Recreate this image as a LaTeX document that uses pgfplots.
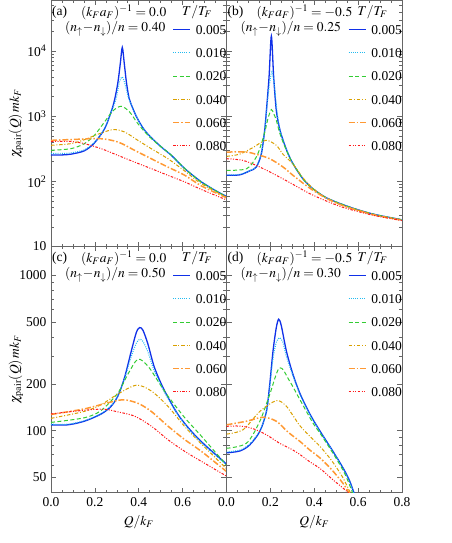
\documentclass[border=0pt]{standalone}
\usepackage{mathptmx}
\usepackage{fontspec}
\setmainfont{Liberation Serif}
\usepackage{pgfplots}
\pgfplotsset{compat=1.18}
\definecolor{cA}{HTML}{1030E8}
\definecolor{cB}{HTML}{22BBF0}
\definecolor{cC}{HTML}{33CC33}
\definecolor{cD}{HTML}{D9A000}
\definecolor{cE}{HTML}{FF9933}
\definecolor{cF}{HTML}{FF1A1A}

\pgfplotsset{scale only axis, width=175.5pt, height=246pt,
  xmin=0, xmax=0.8, xtick={0,0.2,0.4,0.6,0.8}, minor x tick num=3,
  tick align=inside, xtick pos=both, ytick pos=both,
  major tick length=5pt, minor tick length=3pt,
  axis line style={black!60, line width=0.8pt},
  tick style={black!60, line width=0.6pt},
  legend cell align=left,
  legend style={draw=none, fill=none, at={(1,1)}, anchor=north east,
    yshift=-24pt, inner sep=0pt, row sep=13.8pt,
    nodes={inner sep=0pt, text height=9.5pt, text depth=0pt},
    /tikz/every odd column/.append style={column sep=5pt}},
  ylabel style={at={(rel axis cs:-0.2,0.5)}, anchor=center},
}
\tikzset{
  pA/.style={color=cA, draw=cA, line width=1.3pt},
  pB/.style={color=cB, draw=cB, line width=1.1pt, dash pattern=on 0.9pt off 1.3pt},
  pC/.style={color=cC, draw=cC, line width=1pt, dash pattern=on 4pt off 2.5pt},
  pD/.style={color=cD, draw=cD, line width=1pt, dash pattern=on 3.5pt off 1.8pt on 1pt off 1.8pt},
  pE/.style={color=cE, draw=cE, line width=1.5pt, dash pattern=on 6pt off 2pt on 1.5pt off 2pt},
  pF/.style={color=cF, draw=cF, line width=1pt, dash pattern=on 2.5pt off 1.5pt on 1pt off 1.5pt on 1pt off 1.5pt},
  cvA/.style={pA, smooth, tension=0.5, /pgfplots/legend image code/.code={\draw[pA] (0pt,0pt) -- (17pt,0pt);}},
  cvB/.style={pB, smooth, tension=0.5, /pgfplots/legend image code/.code={\draw[pB] (0pt,0pt) -- (17pt,0pt);}},
  cvC/.style={pC, smooth, tension=0.5, /pgfplots/legend image code/.code={\draw[pC] (0pt,0pt) -- (17pt,0pt);}},
  cvD/.style={pD, smooth, tension=0.5, /pgfplots/legend image code/.code={\draw[pD] (0pt,0pt) -- (17pt,0pt);}},
  cvE/.style={pE, smooth, tension=0.5, /pgfplots/legend image code/.code={\draw[pE] (0pt,0pt) -- (17pt,0pt);}},
  cvF/.style={pF, smooth, tension=0.5, /pgfplots/legend image code/.code={\draw[pF] (0pt,0pt) -- (17pt,0pt);}},
}
\newcommand{\panellabels}[3]{%
  \node[anchor=west, inner sep=0pt, xshift=1pt, yshift=-12pt] at (rel axis cs:0,1) {(#1)};
  \node[anchor=west, inner sep=0pt, xshift=30pt, yshift=-12pt] at (rel axis cs:0,1) {$(k_Fa_F)^{-1}=#2$};
  \node[anchor=east, inner sep=0pt, xshift=114.5pt, yshift=-28.5pt] at (rel axis cs:0,1) {$(n_{\uparrow}\!-\!n_{\downarrow})/n=#3$};
  \node[anchor=center, inner sep=0pt, xshift=146pt, yshift=-12pt] at (rel axis cs:0,1) {$T/T_F$};
}

\begin{document}
\fontsize{13.5pt}{16pt}\selectfont
\begin{tikzpicture}
\useasboundingbox (0,0) rectangle (452pt,-543pt);

% (a)
\begin{axis}[at={(51pt,-246.5pt)}, ymode=log, ymin=10, ymax=60000,
  ytick={10,100,1000,10000},
  minor ytick={20,30,40,50,60,70,80,90,200,300,400,500,600,700,800,900,2000,3000,4000,5000,6000,7000,8000,9000,20000,30000,40000,50000},
  xticklabels={},
  yticklabels={10,10\textsuperscript{2},10\textsuperscript{3},10\textsuperscript{4}},
  ylabel={$\chi_{\mathrm{pair}}(Q)\,mk_F$}]
\addplot[cvA] coordinates {(0,255)(0.05,255)(0.091,262)(0.152,295)(0.198,390)(0.244,640)(0.274,1166)(0.29,1800)(0.305,3300)(0.316,6500)(0.325,11400)(0.334,6500)(0.344,3300)(0.356,1900)(0.372,1350)(0.386,1040)(0.405,790)(0.427,609)(0.457,470)(0.503,337)(0.549,251)(0.610,157)(0.686,98)(0.762,68.5)(0.8,58.8)};
\addplot[cvB] coordinates {(0,268)(0.05,268)(0.091,274)(0.152,305)(0.198,400)(0.244,645)(0.274,1150)(0.297,1872)(0.312,3370)(0.325,4025)(0.338,3060)(0.35,2100)(0.362,1600)(0.376,1250)(0.39,1000)(0.405,790)(0.427,605)(0.457,468)(0.503,336)(0.549,250)(0.610,157)(0.686,98)(0.762,68.5)(0.8,58.8)};
\addplot[cvC] coordinates {(0,300)(0.091,318)(0.152,380)(0.198,510)(0.244,818)(0.282,1208)(0.32,1425)(0.358,1166)(0.396,771)(0.442,510)(0.488,370)(0.549,252)(0.610,157)(0.686,97)(0.762,68)(0.8,58)};
\addplot[cvD] coordinates {(0,358)(0.091,380)(0.152,437)(0.213,528)(0.282,624)(0.335,574)(0.396,427)(0.457,318)(0.533,223)(0.610,144)(0.686,92)(0.8,57)};
\addplot[cvE] coordinates {(0,427)(0.1,440)(0.221,454)(0.305,403)(0.381,300)(0.457,223)(0.533,166)(0.610,124)(0.686,85)(0.8,56)};
\addplot[cvF] coordinates {(0,412)(0.091,410)(0.152,380)(0.229,318)(0.305,251)(0.381,198)(0.457,157)(0.533,124)(0.610,98)(0.686,75)(0.8,52)};
\legend{0.005,0.010,0.020,0.040,0.060,0.080}
\panellabels{a}{0.0}{0.40}
\end{axis}

% (b)
\begin{axis}[at={(226.5pt,-246.5pt)}, ymode=log, ymin=10, ymax=60000,
  ytick={10,100,1000,10000},
  minor ytick={20,30,40,50,60,70,80,90,200,300,400,500,600,700,800,900,2000,3000,4000,5000,6000,7000,8000,9000,20000,30000,40000,50000},
  xticklabels={}, yticklabels={}]
\addplot[cvA] coordinates {(0,124)(0.06,126)(0.106,145)(0.136,166)(0.159,267)(0.174,609)(0.182,1233)(0.194,4030)(0.2045,17000)(0.215,4030)(0.227,1233)(0.242,650)(0.258,427)(0.28,270)(0.303,187)(0.348,110)(0.394,77)(0.455,56)(0.53,44)(0.606,36)(0.682,30.7)(0.8,25.7)};
\addplot[cvB] coordinates {(0,126)(0.06,128)(0.106,147)(0.136,168)(0.159,270)(0.174,600)(0.182,1150)(0.194,2800)(0.207,4800)(0.219,2800)(0.23,1200)(0.242,650)(0.258,427)(0.28,270)(0.303,187)(0.348,110)(0.394,77)(0.455,56)(0.53,44)(0.606,36)(0.682,30.7)(0.8,25.7)};
\addplot[cvC] coordinates {(0,148)(0.091,156)(0.136,237)(0.159,380)(0.176,600)(0.19,950)(0.2045,1268)(0.215,1100)(0.227,870)(0.242,560)(0.258,400)(0.28,265)(0.303,187)(0.348,110)(0.394,77)(0.455,56)(0.53,44)(0.606,36)(0.682,30.7)(0.8,25.7)};
\addplot[cvD] coordinates {(0,242)(0.06,262)(0.12,330)(0.179,427)(0.227,358)(0.258,260)(0.303,185)(0.348,114)(0.394,78)(0.455,55)(0.53,43)(0.606,35.5)(0.682,30.3)(0.8,25.5)};
\addplot[cvE] coordinates {(0,282)(0.09,282)(0.136,260)(0.197,223)(0.258,166)(0.303,124)(0.379,79)(0.455,55)(0.53,42.5)(0.606,35.3)(0.682,30)(0.8,25.3)};
\addplot[cvF] coordinates {(0,223)(0.076,210)(0.152,166)(0.227,124)(0.303,90)(0.379,65)(0.455,50)(0.53,40)(0.606,34)(0.682,29.5)(0.8,25)};
\legend{0.005,0.010,0.020,0.040,0.060,0.080}
\panellabels{b}{-0.5}{0.25}
\end{axis}

% (c)
\begin{axis}[at={(51pt,-492.5pt)}, ymode=log, ymin=40, ymax=1530,
  ytick={50,100,200,500,1000},
  minor ytick={60,70,80,90,300,400,600,700,800,900},
  yticklabels={50,100,200,500,1000},
  xticklabels={0.0,0.2,0.4,0.6,{}},
  xlabel={$Q/k_F$}, ylabel={$\chi_{\mathrm{pair}}(Q)\,mk_F$}]
\addplot[cvA] coordinates {(0,109)(0.076,109)(0.152,115)(0.229,128)(0.274,143.5)(0.305,167)(0.335,219)(0.366,325)(0.389,428)(0.404,460)(0.419,443)(0.442,360)(0.472,254)(0.518,180)(0.579,127)(0.640,99)(0.701,81)(0.762,68)(0.8,61)};
\addplot[cvB] coordinates {(0,110)(0.076,110)(0.152,116)(0.229,129)(0.274,145)(0.305,168)(0.335,215)(0.366,300)(0.389,365)(0.404,387)(0.419,375)(0.442,320)(0.472,240)(0.518,176)(0.579,126)(0.640,98)(0.701,80)(0.762,67)(0.8,60.5)};
\addplot[cvC] coordinates {(0,113)(0.152,121)(0.229,135)(0.305,175)(0.350,230)(0.396,288)(0.442,260)(0.488,208)(0.533,167)(0.610,121)(0.686,92)(0.8,60)};
\addplot[cvD] coordinates {(0,120)(0.152,133)(0.229,147)(0.305,172)(0.389,196)(0.457,180)(0.533,143.5)(0.610,106)(0.686,82)(0.8,57)};
\addplot[cvE] coordinates {(0,127)(0.152,138)(0.25,150)(0.328,158)(0.396,150)(0.457,133)(0.533,107)(0.610,87.5)(0.686,73.5)(0.8,54.6)};
\addplot[cvF] coordinates {(0,128)(0.1,133)(0.2,137)(0.25,137)(0.305,132)(0.381,124)(0.457,107)(0.533,87.5)(0.610,73.5)(0.686,63.4)(0.8,51)};
\legend{0.005,0.010,0.020,0.040,0.060,0.080}
\panellabels{c}{0.0}{0.50}
\end{axis}

% (d)
\begin{axis}[at={(226.5pt,-492.5pt)}, ymode=log, ymin=40, ymax=1530,
  ytick={50,100,200,500,1000},
  minor ytick={60,70,80,90,300,400,600,700,800,900},
  yticklabels={}, xticklabels={0.0,0.2,0.4,0.6,0.8},
  xlabel={$Q/k_F$}]
\addplot[cvA] coordinates {(0,72)(0.061,74)(0.106,81)(0.152,99)(0.182,133)(0.197,198)(0.212,325)(0.227,460)(0.238,521)(0.25,472)(0.273,325)(0.303,230)(0.336,172)(0.38,128)(0.427,99)(0.487,73)(0.533,57)(0.56,48)(0.579,40.6)(0.595,35)};
\addplot[cvB] coordinates {(0,73)(0.061,75)(0.106,82)(0.152,100)(0.182,132)(0.197,190)(0.212,290)(0.227,370)(0.242,396)(0.257,370)(0.273,300)(0.303,225)(0.336,170)(0.38,127)(0.427,98)(0.487,72.5)(0.533,56.5)(0.56,47.5)(0.578,40.6)(0.595,35)};
\addplot[cvC] coordinates {(0,77)(0.091,83)(0.152,115)(0.197,171)(0.242,254)(0.288,208)(0.336,157)(0.394,112)(0.427,96)(0.487,71)(0.533,55)(0.555,47)(0.574,40)(0.59,35)};
\addplot[cvD] coordinates {(0,95)(0.076,101.5)(0.152,133)(0.227,156)(0.27,145)(0.303,125)(0.336,107)(0.38,92)(0.427,79)(0.48,64)(0.53,50)(0.564,40)(0.58,36)};
\addplot[cvE] coordinates {(0,109)(0.091,115)(0.167,122)(0.227,115)(0.28,98)(0.336,85)(0.38,75)(0.427,66.6)(0.48,56)(0.53,46)(0.558,40)(0.575,36)};
\addplot[cvF] coordinates {(0,106.6)(0.061,107)(0.121,103)(0.182,94)(0.242,83)(0.303,75)(0.336,70)(0.38,63)(0.427,57)(0.48,49)(0.5545,40)(0.57,37)};
\legend{0.005,0.010,0.020,0.040,0.060,0.080}
\panellabels{d}{-0.5}{0.30}
\end{axis}
\end{tikzpicture}
\end{document}
